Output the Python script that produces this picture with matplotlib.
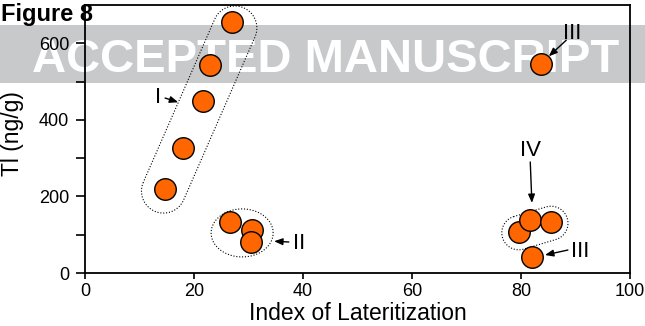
import numpy as np
import matplotlib
matplotlib.use("Agg")
import matplotlib.pyplot as plt
from matplotlib.patches import Rectangle, Polygon

plt.rcParams['font.family'] = ['Liberation Sans', 'DejaVu Sans']

# Data (Index of Lateritization, Tl ng/g)
group_I_x = [14.7, 18.0, 21.7, 22.9, 27.0]
group_I_y = [219, 326, 449, 543, 655]
group_II_x = [26.6, 30.6, 30.5]
group_II_y = [133, 112, 81]
group_III_x = [83.7, 82.0]
group_III_y = [545, 42]
group_IV_x = [79.6, 81.7, 85.5]
group_IV_y = [107, 138, 133]

xticks = [0, 20, 40, 60, 80, 100]
yticks = [0, 200, 400, 600]

W, H = 645, 326
fig = plt.figure(figsize=(W / 100, H / 100), dpi=100)
L, R, T, B = 85, 630, 5, 273
ax = fig.add_axes([L / W, 1 - B / H, (R - L) / W, (B - T) / H])
ax.set_facecolor('none')
ax.set_xlim(0, 100)
ax.set_ylim(0, 700)

# watermark band
fig.patches.append(Rectangle((0, 1 - 83 / H), 1, 58 / H, transform=fig.transFigure,
                             facecolor='#c8c9cb', edgecolor='none', zorder=-2))
fig.text(326 / W, 1 - 72 / H, 'ACCEPTED MANUSCRIPT', color='white', fontsize=34,
         fontweight='bold', ha='center', va='baseline', zorder=-1)
fig.text(1 / W, 1 - 21 / H, 'Figure 8', fontsize=17, fontweight='bold',
         ha='left', va='baseline')

allx = group_I_x + group_II_x + group_III_x + group_IV_x
ally = group_I_y + group_II_y + group_III_y + group_IV_y
ax.scatter(allx, ally, s=240, c='#ff6600', edgecolors='black', linewidths=1.0, zorder=5)

ax.set_xticks(xticks)
ax.set_yticks(yticks)
ax.set_yticks([100, 300, 500], minor=True)
ax.tick_params(axis='both', which='both', direction='out', labelsize=13, width=1.2)
ax.tick_params(axis='y', which='both', length=6.5, pad=5)
ax.tick_params(axis='x', length=4, pad=3)
for s in ax.spines.values():
    s.set_linewidth(1.3)

ax.set_xlabel('Index of Lateritization', fontsize=16.5)
ax.set_ylabel('Tl (ng/g)', fontsize=16.5)
ax.xaxis.set_label_coords(0.5, -0.11)
ax.yaxis.set_label_coords(-0.112, 0.52)

fig.canvas.draw()
to_disp = ax.transData.transform
to_data = ax.transData.inverted().transform


def capsule(p1, p2, r, n=60):
    a = to_disp(p1)
    b = to_disp(p2)
    d = b - a
    ang = np.arctan2(d[1], d[0])
    t1 = np.linspace(ang + np.pi / 2, ang + 3 * np.pi / 2, n)
    t2 = np.linspace(ang - np.pi / 2, ang + np.pi / 2, n)
    pts = np.vstack([a + r * np.c_[np.cos(t1), np.sin(t1)],
                     b + r * np.c_[np.cos(t2), np.sin(t2)]])
    return to_data(pts)


def ellipse(c, rx, ry, n=120):
    cc = to_disp(c)
    t = np.linspace(0, 2 * np.pi, n)
    pts = cc + np.c_[rx * np.cos(t), ry * np.sin(t)]
    return to_data(pts)


dot = dict(fill=False, edgecolor='black', linewidth=0.8, linestyle=(0, (1.0, 1.6)), zorder=3)
ax.add_patch(Polygon(capsule((group_I_x[0] - 0.3, group_I_y[0] - 5),
                             (group_I_x[-1] + 0.5, group_I_y[-1] - 15), 22), closed=True, **dot))
ax.add_patch(Polygon(ellipse((np.mean(group_II_x) - 0.4, np.mean(group_II_y) - 4), 31, 24),
                     closed=True, **dot))
ax.add_patch(Polygon(capsule((group_IV_x[0], group_IV_y[0] - 2),
                             (group_IV_x[2], group_IV_y[2] - 3), 17), closed=True, **dot))

arrow = dict(arrowstyle='-|>,head_length=0.5,head_width=0.2', color='black', lw=1.0,
             shrinkA=0, shrinkB=0)
labels = [('I', (13.4, 459), (14.7, 457), (17.1, 446)),
          ('II', (39.3, 78), (37.4, 81), (34.7, 83)),
          ('III', (89.4, 625), (88.3, 608), (85.1, 566)),
          ('IV', (81.7, 321), (81.7, 290), (82.0, 183)),
          ('III', (90.9, 55), (88.6, 60), (84.4, 47))]
for txt, tp, tail, head in labels:
    ax.text(tp[0], tp[1], txt, fontsize=16, ha='center', va='center', zorder=6)
    ax.annotate('', xy=head, xytext=tail, arrowprops=arrow, zorder=6)

fig.savefig('out.png', dpi=100)
